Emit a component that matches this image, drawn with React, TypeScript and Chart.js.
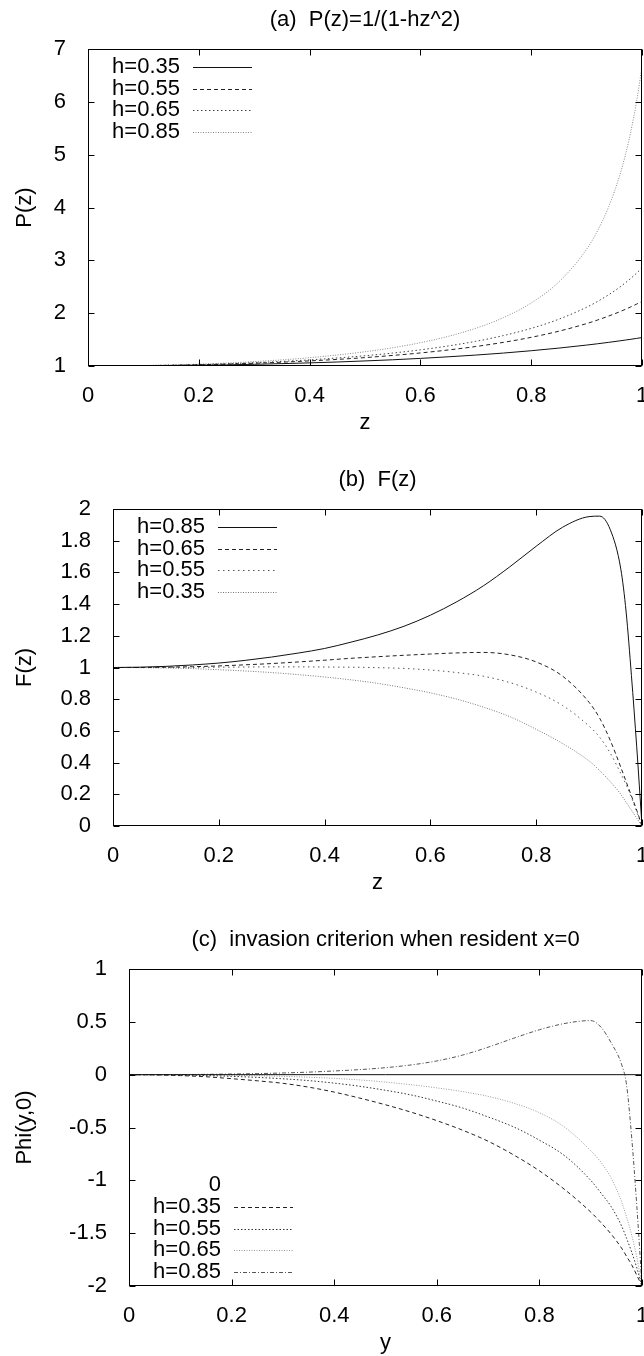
import React, { useEffect, useRef } from "react";
import { Chart, registerables } from "chart.js";

Chart.register(...registerables);

// ---------- data ----------
const Z = [0, 0.05, 0.1, 0.15, 0.2, 0.25, 0.3, 0.35, 0.4, 0.45, 0.5, 0.55, 0.6, 0.65, 0.7, 0.75, 0.8, 0.85, 0.9, 0.92, 0.94, 0.96, 0.97, 0.98, 0.99, 1];
const X_TICKS = [0, 0.2, 0.4, 0.6, 0.8, 1];

// (a) P(z)
const P_H035 = [1, 1.001, 1.004, 1.008, 1.014, 1.022, 1.032, 1.045, 1.059, 1.076, 1.096, 1.118, 1.144, 1.174, 1.207, 1.245, 1.289, 1.339, 1.396, 1.421, 1.448, 1.476, 1.491, 1.506, 1.522, 1.538];
const P_H055 = [1, 1.001, 1.006, 1.013, 1.023, 1.036, 1.052, 1.072, 1.097, 1.125, 1.159, 1.2, 1.247, 1.303, 1.369, 1.448, 1.543, 1.659, 1.803, 1.871, 1.946, 2.028, 2.073, 2.12, 2.17, 2.222];
const P_H065 = [1, 1.002, 1.007, 1.015, 1.027, 1.042, 1.062, 1.087, 1.116, 1.152, 1.194, 1.245, 1.306, 1.379, 1.467, 1.576, 1.712, 1.886, 2.112, 2.223, 2.35, 2.494, 2.575, 2.661, 2.755, 2.857];
const P_H085 = [1, 1.002, 1.009, 1.02, 1.035, 1.056, 1.083, 1.116, 1.157, 1.208, 1.27, 1.346, 1.441, 1.56, 1.714, 1.916, 2.193, 2.592, 3.21, 3.564, 4.017, 4.616, 4.994, 5.445, 5.991, 6.667];
const P_Y_TICKS = [1, 2, 3, 4, 5, 6, 7];

// (b) F(z)
const F_H085 = [1, 1.002, 1.007, 1.016, 1.028, 1.045, 1.066, 1.091, 1.12, 1.16, 1.205, 1.26, 1.33, 1.415, 1.515, 1.635, 1.765, 1.885, 1.952, 1.955, 1.87, 1.62, 1.35, 0.95, 0.5, 0];
const F_H065 = [1, 1.0, 1.002, 1.005, 1.01, 1.017, 1.025, 1.035, 1.046, 1.058, 1.068, 1.077, 1.085, 1.092, 1.095, 1.08, 1.035, 0.945, 0.78, 0.68, 0.54, 0.37, 0.28, 0.19, 0.1, 0];
const F_H055 = [1, 1, 1, 1.001, 1.002, 1.003, 1.004, 1.004, 1.003, 1.002, 0.999, 0.994, 0.984, 0.968, 0.945, 0.905, 0.845, 0.76, 0.63, 0.56, 0.46, 0.33, 0.26, 0.18, 0.09, 0];
const F_H035 = [1, 0.999, 0.997, 0.993, 0.986, 0.978, 0.968, 0.955, 0.94, 0.922, 0.9, 0.872, 0.84, 0.8, 0.75, 0.69, 0.61, 0.52, 0.41, 0.35, 0.28, 0.2, 0.15, 0.1, 0.05, 0];
const F_Y_TICKS = [0, 0.2, 0.4, 0.6, 0.8, 1, 1.2, 1.4, 1.6, 1.8, 2];

// (c) Phi(y,0)
const ZERO_X = [0, 1];
const ZERO_Y = [0, 0];
const PHI_H035 = [0, -0.002, -0.009, -0.02, -0.038, -0.058, -0.082, -0.118, -0.165, -0.222, -0.285, -0.355, -0.435, -0.525, -0.63, -0.76, -0.91, -1.09, -1.3, -1.4, -1.51, -1.64, -1.72, -1.8, -1.9, -2];
const PHI_H055 = [0, -0.001, -0.004, -0.009, -0.016, -0.026, -0.039, -0.056, -0.08, -0.11, -0.148, -0.192, -0.25, -0.315, -0.4, -0.495, -0.62, -0.77, -1.0, -1.12, -1.25, -1.43, -1.55, -1.68, -1.83, -2];
const PHI_H065 = [0, 0, -0.001, -0.003, -0.006, -0.01, -0.016, -0.024, -0.035, -0.05, -0.07, -0.095, -0.125, -0.16, -0.205, -0.27, -0.36, -0.5, -0.72, -0.83, -0.98, -1.2, -1.35, -1.52, -1.73, -2];
const PHI_H085 = [0, 0, 0.001, 0.003, 0.006, 0.01, 0.016, 0.024, 0.035, 0.048, 0.066, 0.092, 0.13, 0.185, 0.26, 0.345, 0.425, 0.485, 0.512, 0.45, 0.3, 0.1, -0.1, -0.6, -1.25, -2];
const PHI_Y_TICKS = [-2, -1.5, -1, -0.5, 0, 0.5, 1];

// ---------- styling / layout ----------
const FONT = "'Liberation Sans', Arial, Helvetica, sans-serif";
const FS = 22;
const CANVAS_W = 660;
const CANVAS_H = 460;
const AREA_TOP = 49;
const AREA_BOTTOM = 366;
const AREA_RIGHT = 642;

type Series = { label: string; xs?: number[]; data: number[]; color: string; dash: number[]; sample?: boolean };
type Spec = {
  key: string;
  title: string;
  xTitle: string;
  yTitle: string;
  yMin: number;
  yMax: number;
  yTicks: number[];
  left: number;
  legendAnchor: "top" | "bottom";
  series: Series[];
};

const PANELS: Spec[] = [
  {
    key: "a",
    title: "(a)  P(z)=1/(1-hz^2)",
    xTitle: "z",
    yTitle: "P(z)",
    yMin: 1,
    yMax: 7,
    yTicks: P_Y_TICKS,
    left: 88,
    legendAnchor: "top",
    series: [
      { label: "h=0.35", data: P_H035, color: "#111", dash: [] },
      { label: "h=0.55", data: P_H055, color: "#222", dash: [4, 3] },
      { label: "h=0.65", data: P_H065, color: "#444", dash: [1.5, 2.5] },
      { label: "h=0.85", data: P_H085, color: "#888", dash: [1, 1.5] },
    ],
  },
  {
    key: "b",
    title: "(b)  F(z)",
    xTitle: "z",
    yTitle: "F(z)",
    yMin: 0,
    yMax: 2,
    yTicks: F_Y_TICKS,
    left: 113,
    legendAnchor: "top",
    series: [
      { label: "h=0.85", data: F_H085, color: "#111", dash: [] },
      { label: "h=0.65", data: F_H065, color: "#222", dash: [4, 3] },
      { label: "h=0.55", data: F_H055, color: "#555", dash: [1.5, 3.5] },
      { label: "h=0.35", data: F_H035, color: "#777", dash: [1, 1.5] },
    ],
  },
  {
    key: "c",
    title: "(c)  invasion criterion when resident x=0",
    xTitle: "y",
    yTitle: "Phi(y,0)",
    yMin: -2,
    yMax: 1,
    yTicks: PHI_Y_TICKS,
    left: 129,
    legendAnchor: "bottom",
    series: [
      { label: "0", xs: ZERO_X, data: ZERO_Y, color: "#111", dash: [], sample: false },
      { label: "h=0.35", data: PHI_H035, color: "#222", dash: [4, 3] },
      { label: "h=0.55", data: PHI_H055, color: "#333", dash: [1.5, 2] },
      { label: "h=0.65", data: PHI_H065, color: "#999", dash: [1, 1.5] },
      { label: "h=0.85", data: PHI_H085, color: "#555", dash: [4, 2, 1, 2] },
    ],
  },
];

const fmt = (v: number) => String(+v.toFixed(2));

function makeDecor(spec: Spec) {
  return {
    id: "decor_" + spec.key,
    afterDatasetsDraw(chart: any) {
      const { ctx, chartArea: ca, scales } = chart;
      const xs = scales.x;
      const ys = scales.y;
      ctx.save();
      // frame
      ctx.setLineDash([]);
      ctx.strokeStyle = "#000";
      ctx.lineWidth = 1;
      const L = Math.round(ca.left) + 0.5;
      const R = Math.round(ca.right) - 0.5;
      const T = Math.round(ca.top) + 0.5;
      const B = Math.round(ca.bottom) - 0.5;
      ctx.strokeRect(L, T, R - L, B - T);
      // inward ticks on all sides
      const TL = 6;
      ctx.beginPath();
      for (const v of X_TICKS) {
        const px = Math.round(xs.getPixelForValue(v)) + 0.5;
        ctx.moveTo(px, B);
        ctx.lineTo(px, B - TL);
        ctx.moveTo(px, T);
        ctx.lineTo(px, T + TL);
      }
      for (const v of spec.yTicks) {
        const py = Math.round(ys.getPixelForValue(v)) + 0.5;
        ctx.moveTo(L, py);
        ctx.lineTo(L + TL, py);
        ctx.moveTo(R, py);
        ctx.lineTo(R - TL, py);
      }
      ctx.stroke();
      // title
      ctx.fillStyle = "#000";
      ctx.font = `${FS}px ${FONT}`;
      ctx.textAlign = "center";
      ctx.textBaseline = "middle";
      ctx.fillText(spec.title, (ca.left + ca.right) / 2, ca.top - 29);
      // legend
      const rowH = 21.7;
      const n = spec.series.length;
      const firstY = spec.legendAnchor === "top" ? ca.top + 18 : ca.bottom - 14 - (n - 1) * rowH;
      spec.series.forEach((s, i) => {
        const y = firstY + i * rowH;
        ctx.fillStyle = "#000";
        ctx.textAlign = "right";
        ctx.fillText(s.label, ca.left + 92, y);
        if (s.sample !== false) {
          ctx.beginPath();
          ctx.strokeStyle = s.color;
          ctx.lineWidth = 1;
          ctx.setLineDash(s.dash);
          const yy = Math.round(y) + 0.5;
          ctx.moveTo(ca.left + 105, yy);
          ctx.lineTo(ca.left + 164, yy);
          ctx.stroke();
        }
      });
      ctx.restore();
    },
  };
}

function Panel({ spec, top }: { spec: Spec; top: number }) {
  const ref = useRef<HTMLCanvasElement | null>(null);
  useEffect(() => {
    if (!ref.current) return;
    const tickFont = { family: FONT, size: FS };
    const chart = new Chart(ref.current, {
      type: "line",
      data: {
        datasets: spec.series.map((s) => ({
          label: s.label,
          data: (s.xs ?? Z).map((x, i) => ({ x, y: s.data[i] })),
          borderColor: s.color,
          borderWidth: 1,
          borderDash: s.dash,
          pointRadius: 0,
          fill: false,
          cubicInterpolationMode: "monotone" as const,
        })),
      },
      options: {
        responsive: false,
        animation: false,
        devicePixelRatio: 1,
        events: [],
        layout: { padding: { top: AREA_TOP, left: 0, right: CANVAS_W - AREA_RIGHT, bottom: 0 } },
        plugins: { legend: { display: false }, title: { display: false }, tooltip: { enabled: false } },
        scales: {
          x: {
            type: "linear",
            min: 0,
            max: 1,
            grid: { display: false },
            border: { display: false },
            afterBuildTicks: (s: any) => {
              s.ticks = X_TICKS.map((v) => ({ value: v }));
            },
            afterFit: (s: any) => {
              s.height = CANVAS_H - AREA_BOTTOM;
            },
            ticks: { autoSkip: false, maxRotation: 0, padding: 9, color: "#000", font: tickFont, callback: (v: any) => fmt(Number(v)) },
            title: { display: true, text: spec.xTitle, color: "#000", font: tickFont, padding: { top: 0, bottom: 24 } },
          },
          y: {
            type: "linear",
            min: spec.yMin,
            max: spec.yMax,
            grid: { display: false },
            border: { display: false },
            afterBuildTicks: (s: any) => {
              s.ticks = spec.yTicks.map((v) => ({ value: v }));
            },
            afterFit: (s: any) => {
              s.width = spec.left;
            },
            ticks: { autoSkip: false, padding: 14, color: "#000", font: tickFont, callback: (v: any) => fmt(Number(v)) },
            title: { display: true, text: spec.yTitle, color: "#000", font: tickFont, padding: { top: 12, bottom: 0 } },
          },
        },
      },
      plugins: [makeDecor(spec)],
    } as any);
    return () => chart.destroy();
  }, [spec]);
  return (
    <canvas
      ref={ref}
      width={CANVAS_W}
      height={CANVAS_H}
      style={{ position: "absolute", left: 0, top, width: CANVAS_W, height: CANVAS_H }}
    />
  );
}

export default function App() {
  return (
    <div
      style={{
        position: "absolute",
        left: 0,
        top: 0,
        width: 644,
        height: 1356,
        overflow: "hidden",
        background: "#fff",
      }}
    >
      {PANELS.map((p, i) => (
        <Panel key={p.key} spec={p} top={i * 460} />
      ))}
    </div>
  );
}
